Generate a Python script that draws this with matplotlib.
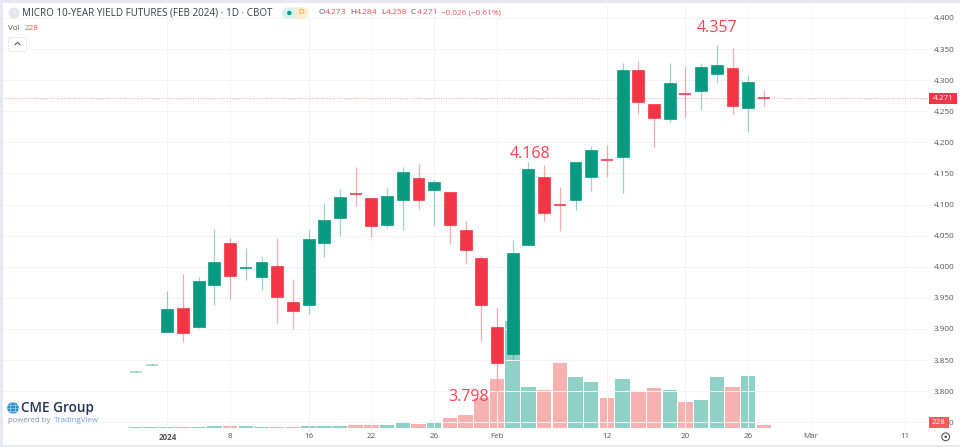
"""Micro 10-year yield futures daily candles with volume, TradingView style."""

import matplotlib
matplotlib.use("Agg")
import matplotlib.pyplot as plt
from matplotlib.patches import Circle, Ellipse, FancyBboxPatch, Rectangle

# trading days counted from the first session of 2024
days = list(range(-2, 39))
opens = [3.831, 3.842, 3.895, 3.934, 3.903, 3.971, 4.039, 3.997, 3.984, 4.002,
         3.944, 3.939, 4.039, 4.078, 4.118, 4.110, 4.067, 4.108, 4.143, 4.124,
         4.121, 4.059, 4.014, 3.904, 3.860, 4.035, 4.144, 4.101, 4.107, 4.144,
         4.174, 4.177, 4.317, 4.262, 4.237, 4.280, 4.282, 4.310, 4.320, 4.255, 4.273]
highs = [3.832, 3.843, 3.961, 3.988, 3.983, 4.061, 4.046, 4.031, 4.017, 4.047,
         3.980, 4.059, 4.102, 4.125, 4.160, 4.110, 4.126, 4.161, 4.166, 4.140,
         4.121, 4.074, 4.017, 3.933, 4.043, 4.168, 4.163, 4.128, 4.169, 4.194,
         4.196, 4.327, 4.331, 4.262, 4.327, 4.321, 4.327, 4.357, 4.351, 4.308, 4.284]
lows = [3.831, 3.842, 3.895, 3.879, 3.901, 3.939, 3.949, 3.979, 3.962, 3.909,
        3.900, 3.924, 4.016, 4.050, 4.097, 4.048, 4.062, 4.059, 4.093, 4.067,
        4.037, 4.005, 3.881, 3.798, 3.852, 4.035, 4.074, 4.058, 4.092, 4.122,
        4.145, 4.118, 4.246, 4.193, 4.232, 4.241, 4.252, 4.296, 4.246, 4.216, 4.258]
closes = [3.832, 3.843, 3.932, 3.893, 3.977, 4.007, 3.985, 3.999, 4.007, 3.951,
          3.929, 4.044, 4.076, 4.113, 4.116, 4.066, 4.114, 4.152, 4.108, 4.136,
          4.067, 4.027, 3.939, 3.845, 4.022, 4.158, 4.087, 4.098, 4.168, 4.187,
          4.169, 4.317, 4.265, 4.240, 4.296, 4.276, 4.322, 4.324, 4.259, 4.297, 4.271]
volumes = [25, 25, 60, 60, 60, 170, 110, 110, 85, 85,
           85, 170, 145, 145, 195, 195, 195, 395, 340, 420,
           785, 1040, 2475, 4075, 8970, 3435, 3150, 5460, 4280, 3880,
           2505, 4075, 3100, 3375, 3180, 2195, 2305, 4305, 3460, 4330, 228]

date_ticks = [0, 4, 9, 13, 17, 21, 28, 33, 37, 41, 47]
date_labels = ["2024", "8", "16", "22", "26", "Feb", "12", "20", "26", "Mar", "11"]
price_ticks = [3.75, 3.80, 3.85, 3.90, 3.95, 4.00, 4.05, 4.10, 4.15, 4.20, 4.25, 4.30, 4.35, 4.40]

GREEN = "#089981"
RED = "#F23645"
VOL_RED = "#EF5350"
FONT = "Open Sans"

plt.rcParams["font.family"] = [FONT, "DejaVu Sans"]

fig = plt.figure(figsize=(9.6, 4.47), dpi=100, facecolor="white")

# chart pane in pixels: x 3-928, y 5-432
ax = fig.add_axes([3 / 960, (447 - 432) / 447, 925 / 960, 427 / 447])
ax.set_xlim(-10.465, 48.45)
ax.set_ylim(3.7344, 4.4209)

vol_ax = ax.twinx()
vol_ax.set_ylim(-363, 35676)
vol_ax.axis("off")
ax.set_zorder(2)
ax.patch.set_visible(False)

for day, vol, o, c in zip(days, volumes, opens, closes):
    vol_ax.bar(day, vol, width=0.92, color=VOL_RED if c < o else GREEN, alpha=0.45,
               edgecolor="none")

for day, o, h, l, c in zip(days, opens, highs, lows, closes):
    color = RED if c < o else GREEN
    ax.vlines(day, l, h, color=color, linewidth=0.9, alpha=0.42, zorder=3)
    bottom, top = min(o, c), max(o, c)
    if top - bottom < 0.006:
        # sessions with a single trade print as a pale dash
        dash_alpha = 0.35 if h - l < 0.002 else 0.9
        ax.hlines((o + c) / 2, day - 0.38, day + 0.38, color=color,
                  linewidth=1.3, alpha=dash_alpha, zorder=4)
    else:
        ax.bar(day, top - bottom, bottom=bottom, width=0.76, color=color,
               edgecolor=color, linewidth=0.5, zorder=4)

ax.axhline(closes[-1], color=RED, linewidth=0.7, linestyle=(0, (1, 1.5)), alpha=0.45, zorder=2)

ax.set_xticks(date_ticks)
ax.set_xticklabels(date_labels, fontsize=5.8, color="#555555", va="center")
ax.get_xticklabels()[0].set_fontweight("bold")
ax.set_yticks(price_ticks)
ax.set_yticklabels([f"{p:.3f}" for p in price_ticks], fontsize=5.9, color="#555555")
ax.yaxis.tick_right()
ax.tick_params(axis="both", length=0)
ax.tick_params(axis="x", pad=3.6)
ax.tick_params(axis="y", pad=4.3)
ax.grid(True, color="#F3F4F7", linewidth=0.7)
ax.set_axisbelow(True)
for spine in ax.spines.values():
    spine.set_visible(False)

# callouts on the notable highs and lows
for day, value, dx, dy in [(35, 4.357, 0, 11.7), (23, 4.168, 1.1, 6), (21, 3.798, -20.5, -3)]:
    ax.annotate(f"{value:.3f}", (day, value), xytext=(dx, dy), textcoords="offset points",
                ha="center", va="center", fontsize=11.5, color="#F5434F", zorder=6)

# chrome drawn in pixel coordinates
ui = fig.add_axes([0, 0, 1, 1], zorder=5)
ui.set_xlim(0, 960)
ui.set_ylim(447, 0)
ui.axis("off")
ui.patch.set_visible(False)

ui.add_patch(Rectangle((0, 0), 960, 2.5, color="#E6E9F2", lw=0))
ui.add_patch(Rectangle((0, 0), 2.5, 447, color="#E6E9F2", lw=0))
ui.add_patch(Rectangle((0, 444.5), 960, 2.5, color="#E6E9F2", lw=0))

ui.add_patch(Circle((14, 13), 5.5, color="#E3E5EC", lw=0))
ui.text(14, 13, "1", fontsize=4.5, color="white", ha="center", va="center")
ui.text(22.5, 13, "MICRO 10-YEAR YIELD FUTURES (FEB 2024) · 1D · CBOT", fontsize=7.1,
        color="#3A3D46", ha="left", va="center")

ui.add_patch(FancyBboxPatch((282, 7.5), 26, 11, boxstyle="round,pad=0,rounding_size=5", color="#D9F1EC", lw=0))
ui.add_patch(FancyBboxPatch((295, 7.5), 13, 11, boxstyle="round,pad=0,rounding_size=5", color="#FDECD2", lw=0))
ui.add_patch(Rectangle((295, 7.5), 6, 11, color="#FDECD2", lw=0))
ui.add_patch(Circle((289.3, 13), 2.2, color=GREEN, lw=0))
ui.text(300.7, 13, "D", fontsize=5.8, color="#F59A23", ha="center", va="center")

ohlc = [(318.7, "O", opens[-1]), (350, "H", highs[-1]), (381, "L", lows[-1]), (410.7, "C", closes[-1])]
for x, letter, value in ohlc:
    ui.text(x, 13, letter, fontsize=5.9, color="#555555", ha="left", va="center")
    ui.text(x + (5 if letter == "L" else 6), 13, f"{value:.3f}", fontsize=6.1, color="#F5525E",
            ha="left", va="center")
ui.text(441, 13, "−0.026 (−0.61%)", fontsize=5.9, color="#F5525E", ha="left", va="center")

ui.text(8.5, 28.5, "Vol", fontsize=5.8, color="#555555", ha="left", va="center")
ui.text(25, 28.5, f"{volumes[-1]}", fontsize=5.8, color="#F5525E", ha="left", va="center")
ui.add_patch(FancyBboxPatch((8.5, 37.5), 18, 14, boxstyle="round,pad=0,rounding_size=2",
                            facecolor="white", edgecolor="#E3E5EC", lw=0.6))
ui.plot([15, 17.5, 20], [44.5, 42.5, 44.5], color="#444444", lw=0.7)

# last price and last volume tags
ui.add_patch(Rectangle((929, 93.3), 27.7, 10.4, color="#F23645", lw=0))
ui.text(942.8, 98.5, f"{closes[-1]:.3f}", fontsize=5.9, color="white", ha="center", va="center")
ui.add_patch(Rectangle((929, 416.7), 20, 11, color="#F55B5B", lw=0))
ui.text(939, 422.2, f"{volumes[-1]}", fontsize=5.8, color="white", ha="center", va="center")

# settings icon
ui.add_patch(Circle((945.7, 436.8), 3.9, facecolor="white", edgecolor="#555555", lw=0.8))
ui.add_patch(Circle((945.7, 436.8), 1.3, color="#555555", lw=0))

# CME Group logo
ui.add_patch(Circle((13, 408), 5.8, color="#2E8FD0", lw=0))
ui.add_patch(Ellipse((13, 408), 5.5, 11.4, facecolor="none", edgecolor="#BFE0F5", lw=0.4))
ui.plot([7.4, 18.6], [408, 408], color="#BFE0F5", lw=0.4)
ui.plot([8.2, 17.8], [405, 405], color="#BFE0F5", lw=0.4)
ui.plot([8.2, 17.8], [411, 411], color="#BFE0F5", lw=0.4)
ui.text(21, 407.8, "CME Group", fontsize=9.8, fontweight="semibold", color="#1F3552",
        ha="left", va="center")
ui.text(8, 420.8, "powered by", fontsize=5.6, color="#8A8F99", ha="left", va="center")
ui.text(54, 420.8, "TradingView", fontsize=5.7, color="#6F9CF5", ha="left", va="center")

fig.savefig("out.png", dpi=100)
plt.close(fig)
